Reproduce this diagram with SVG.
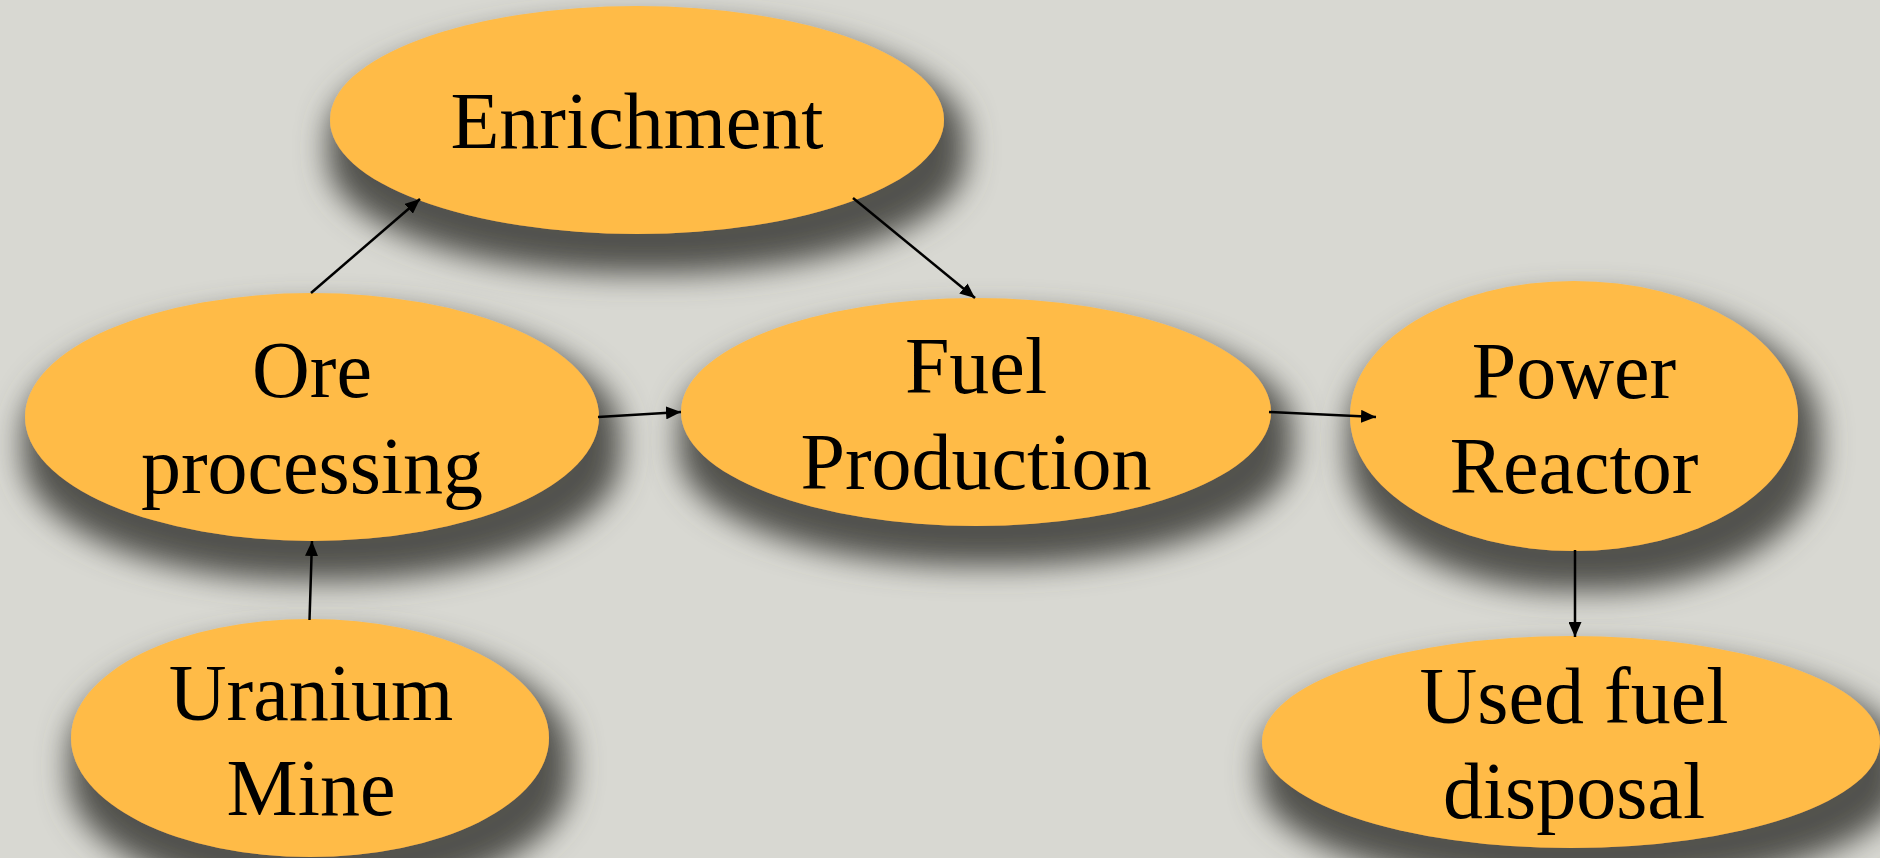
<svg xmlns="http://www.w3.org/2000/svg" width="1880" height="858" viewBox="0 0 1880 858">
  <style>
    .node { fill: #ffbb46; filter: url(#shadow); }
    .label { font-family: "Liberation Serif", "Times New Roman", serif; font-size: 80px; fill: #000; text-anchor: middle; }
    .edge { stroke: #000; stroke-width: 2.5; fill: none; marker-end: url(#arrow); }
  </style>
  <defs>
    <!-- soft drop shadow under every node, slightly larger than the node itself -->
    <filter id="shadow" x="-30%" y="-30%" width="170%" height="210%">
      <feMorphology in="SourceAlpha" operator="dilate" radius="12" result="grown"/>
      <feGaussianBlur in="grown" stdDeviation="15" result="blur"/>
      <feOffset in="blur" dx="10" dy="28" result="off"/>
      <feFlood flood-color="#52524d" flood-opacity="1"/>
      <feComposite in2="off" operator="in" result="shade"/>
      <feMerge>
        <feMergeNode in="shade"/>
        <feMergeNode in="SourceGraphic"/>
      </feMerge>
    </filter>
    <marker id="arrow" markerUnits="userSpaceOnUse" markerWidth="15" markerHeight="13" refX="15" refY="6.5" orient="auto">
      <path d="M0,0 L15,6.5 L0,13 z" fill="#000"/>
    </marker>
  </defs>

  <rect x="0" y="0" width="1880" height="858" fill="#d8d8d2"/>

  <g id="enrichment">
    <ellipse class="node" cx="637" cy="120" rx="307" ry="114"/>
    <text class="label" x="637" y="148">Enrichment</text>
  </g>

  <g id="ore-processing">
    <ellipse class="node" cx="312" cy="417" rx="287" ry="124"/>
    <text class="label" x="312" y="397">Ore</text>
    <text class="label" x="312" y="493">processing</text>
  </g>

  <g id="fuel-production">
    <ellipse class="node" cx="976" cy="412" rx="295" ry="114"/>
    <text class="label" x="976" y="393">Fuel</text>
    <text class="label" x="976" y="489">Production</text>
  </g>

  <g id="power-reactor">
    <ellipse class="node" cx="1574" cy="416" rx="224" ry="135"/>
    <text class="label" x="1574" y="398">Power</text>
    <text class="label" x="1574" y="493">Reactor</text>
  </g>

  <g id="uranium-mine">
    <ellipse class="node" cx="310" cy="738" rx="239" ry="119"/>
    <text class="label" x="311" y="720">Uranium</text>
    <text class="label" x="311" y="815">Mine</text>
  </g>

  <g id="used-fuel-disposal">
    <ellipse class="node" cx="1571" cy="742" rx="309" ry="106"/>
    <text class="label" x="1574" y="723">Used fuel</text>
    <text class="label" x="1574" y="818">disposal</text>
  </g>

  <g id="connectors">
    <line class="edge" x1="311" y1="293" x2="420" y2="199"/>
    <line class="edge" x1="853" y1="198" x2="975" y2="298"/>
    <line class="edge" x1="598" y1="417" x2="681" y2="412"/>
    <line class="edge" x1="1269" y1="412" x2="1376" y2="417"/>
    <line class="edge" x1="309.5" y1="620" x2="312" y2="541"/>
    <line class="edge" x1="1575" y1="550" x2="1575" y2="637"/>
  </g>
</svg>
